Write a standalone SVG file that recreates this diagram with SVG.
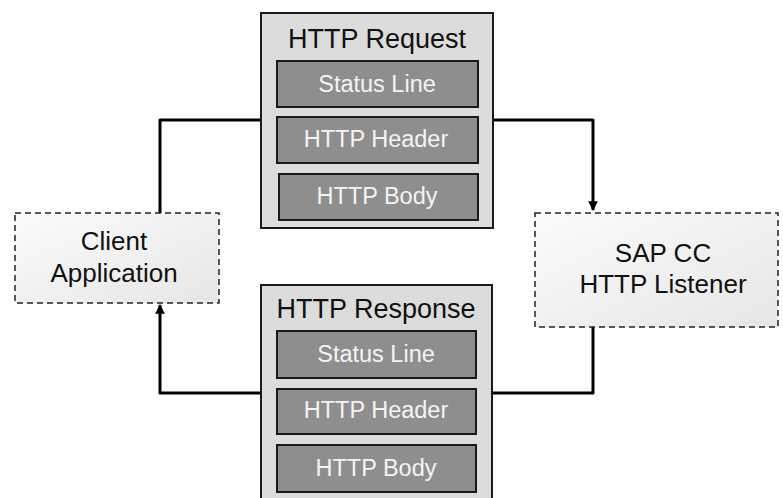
<svg xmlns="http://www.w3.org/2000/svg" width="783" height="498" viewBox="0 0 783 498">
<defs>
<linearGradient id="g" x1="0" y1="0" x2="1" y2="1">
<stop offset="0" stop-color="#fbfbfb"/>
<stop offset="1" stop-color="#e6e6e6"/>
</linearGradient>
<marker id="arr" viewBox="0 0 10 10" refX="9" refY="5" markerWidth="3.2" markerHeight="3.2" orient="auto" markerUnits="strokeWidth">
<path d="M0,0 L10,5 L0,10 Z" fill="#000"/>
</marker>
<style>
.outer{fill:#dcdcdc;stroke:#1a1a1a;stroke-width:2}
.inner{fill:#8e8e8e;stroke:#1a1a1a;stroke-width:2}
.dash{fill:url(#g);stroke:#222;stroke-width:1.5;stroke-dasharray:6,4}
.title{font-family:"Liberation Sans",Arial,sans-serif;font-size:27px;fill:#111;text-anchor:middle}
.lbl{font-family:"Liberation Sans",Arial,sans-serif;font-size:23.5px;fill:#f4f4f4;text-anchor:middle}
.node{font-family:"Liberation Sans",Arial,sans-serif;font-size:26px;fill:#111;text-anchor:middle}
.conn{fill:none;stroke:#000;stroke-width:3;stroke-linejoin:round}
</style>
</defs>
<g id="connectors">
<path class="conn" d="M160,213 V120 H261"/>
<path class="conn" d="M493,120 H593 V210" marker-end="url(#arr)"/>
<path class="conn" d="M593,327 V393 H492"/>
<path class="conn" d="M261,393 H160 V305" marker-end="url(#arr)"/>
</g>
<g id="http-request">
<rect class="outer" x="261" y="13" width="232" height="215"/>
<text class="title" x="377" y="48">HTTP Request</text>
<rect class="inner" x="277" y="61" width="201" height="46"/>
<text class="lbl" x="377" y="92">Status Line</text>
<rect class="inner" x="277" y="117" width="201" height="46"/>
<text class="lbl" x="376" y="147">HTTP Header</text>
<rect class="inner" x="279" y="174" width="199" height="46"/>
<text class="lbl" x="377" y="204">HTTP Body</text>
</g>
<g id="http-response">
<rect class="outer" x="261" y="285" width="231" height="225"/>
<text class="title" x="376" y="318">HTTP Response</text>
<rect class="inner" x="277" y="331" width="199" height="47"/>
<text class="lbl" x="376" y="362">Status Line</text>
<rect class="inner" x="277" y="389" width="199" height="45"/>
<text class="lbl" x="376" y="418">HTTP Header</text>
<rect class="inner" x="277" y="445" width="199" height="47"/>
<text class="lbl" x="376" y="476">HTTP Body</text>
</g>
<g id="client-application">
<rect class="dash" x="15" y="213" width="204" height="90"/>
<text class="node" x="114" y="250">Client</text>
<text class="node" x="114" y="282">Application</text>
</g>
<g id="sap-cc-http-listener">
<rect class="dash" x="535" y="213" width="243" height="114"/>
<text class="node" x="663" y="262">SAP CC</text>
<text class="node" x="663" y="293">HTTP Listener</text>
</g>
</svg>
